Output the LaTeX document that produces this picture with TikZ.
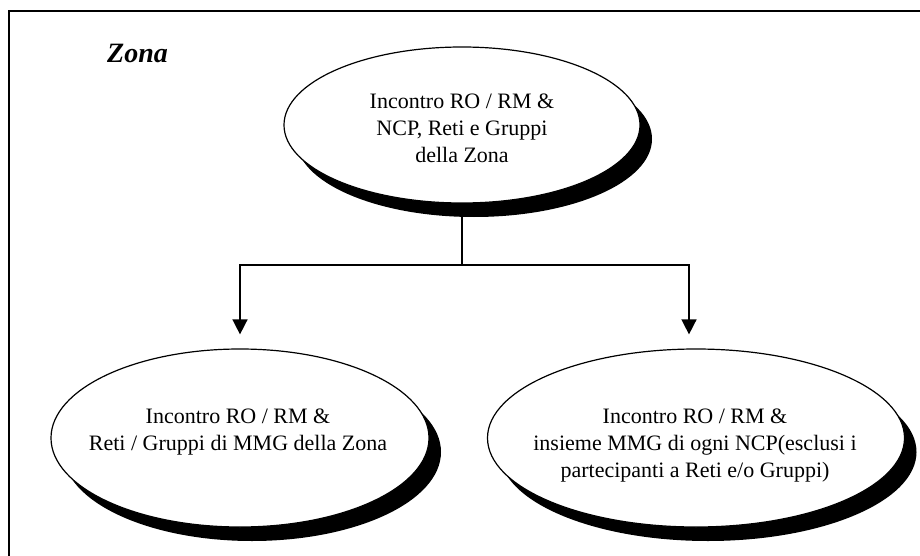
\documentclass[tikz,border=0pt]{standalone}
\usepackage{fontspec}
\setmainfont{Liberation Serif}
\usetikzlibrary{shapes.geometric,shadows,arrows.meta}
\begin{document}
\begin{tikzpicture}[x=1pt,y=-1pt,
  bubble/.style={ellipse, draw=black, line width=1.2pt, fill=white, inner sep=0pt,
    drop shadow={shadow xshift=12pt, shadow yshift=-14pt, fill=black, opacity=1}},
  bubbletext/.style={align=center, font=\fontsize{22}{27}\selectfont, inner sep=0pt},
  conn/.style={line width=1.5pt},
  arrowconn/.style={conn, -{Triangle[width=15pt,length=15pt]}, shorten >=14pt}]
\useasboundingbox (0,0) rectangle (920,556);
\clip (0,0) rectangle (920,556);

% outer frame (continues past the right and bottom edges)
\draw[line width=1.4pt] (9,600) -- (9,11) -- (960,11);

\node[font=\fontsize{28}{30}\selectfont\bfseries\itshape, anchor=base west, inner sep=0pt]
  (zona) at (107,63) {Zona};

% meetings
\node[bubble, minimum width=356pt, minimum height=156pt] (T) at (462,125) {};
\node[bubbletext] (Tt) at (462,128) {Incontro RO / RM \&\\NCP, Reti e Gruppi\\della Zona};

\node[bubble, minimum width=378pt, minimum height=178pt] (L) at (240,438) {};
\node[bubbletext] (Lt) at (238,432) {Incontro RO / RM \&\\Reti / Gruppi di MMG della Zona};

\node[bubble, minimum width=417pt, minimum height=178pt] (R) at (696,438) {};
\node[bubbletext] (Rt) at (695,446) {Incontro RO / RM \&\\insieme MMG di ogni NCP(esclusi i\\partecipanti a Reti e/o Gruppi)};

% connectors
\coordinate (hub) at (462,265);
\draw[conn] (T.south) -- (hub);
\draw[arrowconn] (hub) -| (L.north);
\draw[arrowconn] (hub) -| ([xshift=-7pt]R.north);
\end{tikzpicture}
\end{document}
